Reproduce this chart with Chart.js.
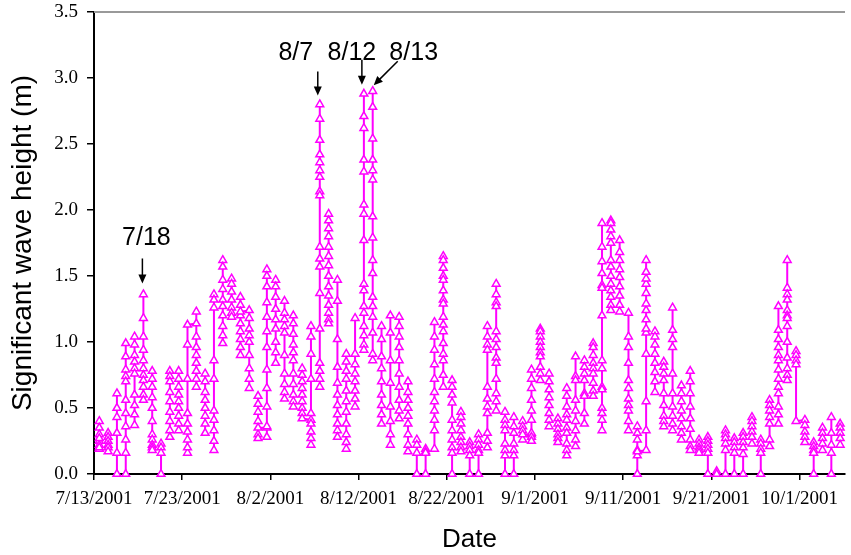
<!DOCTYPE html>
<html><head><meta charset="utf-8">
<script src="https://cdn.jsdelivr.net/npm/chart.js@4.4.1/dist/chart.umd.min.js"></script>
<style>html,body{margin:0;padding:0;background:#fff}canvas{display:block}</style>
</head><body>
<canvas id="c" width="851" height="555"></canvas>
<script>
// ---- data ----
const startDate = '7/13/2001';
const tickLabels = ['7/13/2001','7/23/2001','8/2/2001','8/12/2001','8/22/2001','9/1/2001','9/11/2001','9/21/2001','10/1/2001'];

// significant wave height (m) readings of each daily record burst
const julyHeights = [ // 7/13 - 7/31
  [0.4,0.35,0.3,0.25,0.22,0.19,0.2,0.27],
  [0.31,0.28,0.25,0.22,0.2,0.17],
  [0.61,0.5,0.43,0.31,0.16,0.0],
  [0.99,0.89,0.79,0.74,0.7,0.56,0.46,0.36,0.26,0.16,0.0],
  [1.04,0.98,0.9,0.85,0.8,0.76,0.6,0.52,0.45,0.37],
  [1.36,1.18,1.04,0.94,0.86,0.8,0.75,0.71,0.66,0.6,0.56],
  [0.78,0.72,0.66,0.58,0.5,0.4,0.3,0.26,0.22,0.2,0.18],
  [0.23,0.2,0.16,0.0],
  [0.78,0.74,0.7,0.62,0.55,0.47,0.4,0.33,0.28],
  [0.78,0.72,0.66,0.6,0.55,0.5,0.44,0.38,0.33],
  [0.16,0.2,0.26,0.32,0.38,0.46,0.72,0.98,1.13],
  [1.14,1.23,1.04,0.96,0.9,0.84,0.78,0.72,0.66],
  [0.76,0.7,0.62,0.56,0.5,0.44,0.38,0.31],
  [1.36,1.32,1.26,0.86,0.72,0.48,0.41,0.33,0.25,0.18],
  [1.62,1.57,1.47,1.4,1.32,1.27,1.2,1.12,1.05,0.99],
  [1.48,1.44,1.38,1.32,1.26,1.22,1.19],
  [1.34,1.28,1.2,1.14,1.08,1.02,0.96,0.9,1.23],
  [1.24,1.18,1.1,1.05,1.0,0.9,0.8,0.72,0.65],
  [0.59,0.53,0.47,0.4,0.3,0.27,0.35]
];
const augustHeights = [ // 8/1 - 8/31
  [0.35,1.55,1.5,1.42,1.3,1.19,1.08,0.96,0.79,0.65,0.51,0.36,0.28],
  [1.47,1.42,1.34,1.25,1.17,1.1,1.0,0.92,0.84],
  [1.31,1.22,1.17,1.12,1.07,0.9,0.76,0.68,0.62,0.57],
  [1.2,1.14,1.06,0.98,0.92,0.86,0.76,0.68,0.6,0.55,0.51],
  [0.8,0.75,0.7,0.65,0.6,0.55,0.5,0.46,0.42],
  [0.41,1.12,1.04,0.91,0.72,0.46,0.38,0.32,0.27,0.22],
  [2.8,2.69,2.53,2.42,2.36,2.3,2.25,2.14,2.11,1.72,1.63,1.57,1.37,1.1,0.84,0.78,0.72,0.66],
  [1.97,1.92,1.86,1.8,1.72,1.65,1.58,1.5,1.42,1.35,1.28,1.22,1.17,1.14],
  [1.47,1.31,1.02,0.81,0.69,0.6,0.52,0.45,0.38,0.33,0.28],
  [0.91,0.85,0.78,0.72,0.63,0.55,0.47,0.38,0.3,0.24,0.19],
  [1.18,0.91,0.83,0.76,0.7,0.63,0.57,0.51],
  [2.88,2.71,2.62,2.38,2.29,2.04,1.97,1.77,1.44,1.39,1.27,1.22,1.12,1.05,0.98,0.94],
  [2.9,2.78,2.54,2.38,2.3,2.23,1.95,1.79,1.62,1.52,1.34,1.27,1.19,1.07,0.91,0.86],
  [1.12,1.02,0.89,0.8,0.7,0.6,0.52,0.45,0.38],
  [1.2,1.07,0.86,0.69,0.51,0.4,0.3,0.22],
  [1.19,1.12,1.04,0.96,0.86,0.76,0.66,0.56,0.48,0.42],
  [0.7,0.62,0.56,0.5,0.44,0.38,0.3,0.22,0.17],
  [0.26,0.22,0.16,0.0],
  [0.19,0.17,0.16,0.0],
  [1.15,1.04,0.94,0.83,0.72,0.62,0.55,0.48,0.41,0.33,0.19],
  [1.65,1.62,1.56,1.5,1.47,1.39,1.32,1.29,1.19,1.13,1.08,0.99,0.91,0.86,0.75,0.66],
  [0.71,0.66,0.6,0.54,0.41,0.33,0.26,0.2,0.16,0.0],
  [0.47,0.43,0.38,0.33,0.28,0.24,0.2,0.17],
  [0.24,0.21,0.18,0.14,0.0],
  [0.3,0.26,0.22,0.18,0.16,0.0],
  [1.12,1.04,0.98,0.94,0.66,0.57,0.51,0.46,0.31,0.25,0.2],
  [1.44,1.36,1.3,1.27,1.08,1.02,0.96,0.88,0.84,0.72,0.61,0.55,0.48],
  [0.47,0.41,0.37,0.33,0.23,0.18,0.14,0.0],
  [0.43,0.36,0.31,0.23,0.18,0.14,0.0],
  [0.4,0.36,0.33,0.26,0.3],
  [0.3,0.79,0.72,0.65,0.56,0.48,0.41,0.31,0.28,0.25]
];
const septemberHeights = [ // 9/1 - 9/30
  [1.1,1.08,1.04,1.0,0.96,0.92,0.89,0.81,0.76,0.71],
  [0.76,0.7,0.64,0.58,0.52,0.46,0.41,0.36],
  [0.42,0.38,0.34,0.3,0.27,0.24],
  [0.65,0.59,0.51,0.45,0.41,0.35,0.31,0.23,0.18,0.14],
  [0.89,0.74,0.71,0.56,0.48,0.4,0.33,0.26,0.21],
  [0.86,0.81,0.76,0.71,0.61,0.59,0.46,0.38],
  [0.99,0.96,0.9,0.84,0.8,0.76,0.69,0.63,0.59],
  [1.9,1.72,1.61,1.52,1.43,1.41,1.2,0.86,0.8,0.66,0.64,0.5,0.46,0.41,0.33],
  [1.92,1.9,1.85,1.8,1.75,1.62,1.57,1.5,1.44,1.39,1.34,1.28,1.24],
  [1.77,1.68,1.62,1.55,1.49,1.42,1.35,1.28,1.23],
  [1.22,1.04,0.96,0.84,0.71,0.65,0.57,0.52,0.48,0.4,0.33],
  [0.36,0.31,0.26,0.18,0.14,0.0,0.17],
  [0.18,0.33,0.55,0.91,1.07,1.1,1.17,1.24,1.29,1.37,1.44,1.48,1.53,1.62],
  [1.08,1.04,0.98,0.91,0.84,0.77,0.7,0.62],
  [0.85,0.81,0.76,0.71,0.61,0.52,0.44,0.4,0.36],
  [1.26,1.09,1.02,0.96,0.76,0.61,0.51,0.44,0.38,0.33],
  [0.67,0.61,0.55,0.48,0.42,0.36,0.31,0.26],
  [0.78,0.7,0.61,0.51,0.42,0.34,0.26,0.21,0.18],
  [0.26,0.23,0.2,0.18,0.16],
  [0.28,0.25,0.22,0.19,0.16,0.0],
  [0.02,0.0],
  [0.33,0.3,0.27,0.23,0.18,0.0],
  [0.27,0.24,0.2,0.16,0.0],
  [0.31,0.28,0.24,0.2,0.15,0.0],
  [0.43,0.4,0.36,0.32,0.28,0.23],
  [0.26,0.23,0.19,0.16,0.0],
  [0.56,0.52,0.48,0.43,0.38,0.26,0.21],
  [1.27,1.09,1.02,0.96,0.9,0.86,0.79,0.72,0.66,0.61,0.51,0.45,0.38],
  [1.62,1.41,1.36,1.32,1.24,1.2,1.18,1.12,1.0,0.88,0.8,0.75,0.71],
  [0.93,0.9,0.86,0.83,0.4]
];
const octoberHeights = [ // 10/1 - 10/5
  [0.41,0.37,0.32,0.28,0.24],
  [0.24,0.21,0.18,0.16,0.0],
  [0.35,0.31,0.27,0.23,0.18],
  [0.43,0.31,0.22,0.16,0.0],
  [0.38,0.35,0.31,0.27,0.22]
];
// days (index from start) whose last record is joined to the next day's first record
const linkedDays = [10, 16, 18, 23, 48, 61, 79];
const calloutDates = ['7/18', '8/7', '8/12', '8/13'];

// ---- build ----
const dailyHeights = [...julyHeights, ...augustHeights, ...septemberHeights, ...octoberHeights];
const recordTime = 0.6; // fraction of the day at which each burst was recorded
const points = [];
dailyHeights.forEach((vals, d) => {
  vals.forEach(v => points.push({x: d + recordTime, y: v}));
  if (!linkedDays.includes(d)) points.push({x: d + recordTime, y: null});
});
function dayOf(md) {
  const [m, d] = md.split('/').map(Number);
  const [m0, d0, y0] = startDate.split('/').map(Number);
  return Math.round((Date.UTC(y0, m - 1, d) - Date.UTC(y0, m0 - 1, d0)) / 86400000);
}

function drawArrow(ctx, x1, y1, x2, y2) {
  const ang = Math.atan2(y2 - y1, x2 - x1);
  const L = 9, W = 4;
  ctx.beginPath();
  ctx.moveTo(x1, y1);
  ctx.lineTo(x2 - Math.cos(ang) * L * 0.8, y2 - Math.sin(ang) * L * 0.8);
  ctx.stroke();
  ctx.beginPath();
  ctx.moveTo(x2, y2);
  ctx.lineTo(x2 - Math.cos(ang) * L + Math.sin(ang) * W, y2 - Math.sin(ang) * L - Math.cos(ang) * W);
  ctx.lineTo(x2 - Math.cos(ang) * L - Math.sin(ang) * W, y2 - Math.sin(ang) * L + Math.cos(ang) * W);
  ctx.closePath();
  ctx.fill();
}

const calloutLayout = {
  '7/18': {tail: [-1, -36], tip: [-1, -11], text: [3, -56], row: false},
  '8/7':  {tail: [-2, -33], tip: [-2, -9], text: [-24, 0], row: true},
  '8/12': {tail: [-2, -34], tip: [-2, -9], text: [-12, 0], row: true},
  '8/13': {tail: [25, -30], tip: [1, -6], text: [41, 0], row: true}
};

const decor = {
  id: 'decor',
  beforeDatasetsDraw(chart) {
    const {ctx, chartArea: a} = chart;
    ctx.save();
    ctx.strokeStyle = '#999';
    ctx.lineWidth = 2;
    ctx.beginPath();
    ctx.moveTo(a.left, a.top);
    ctx.lineTo(a.right, a.top);
    ctx.stroke();
    ctx.restore();
  },
  afterDatasetsDraw(chart) {
    const {ctx} = chart;
    const xs = chart.scales.x, ys = chart.scales.y;
    ctx.save();
    ctx.strokeStyle = '#000';
    ctx.fillStyle = '#000';
    ctx.lineWidth = 1.5;
    ctx.font = '25px "Liberation Sans", Arial, sans-serif';
    ctx.textAlign = 'center';
    ctx.textBaseline = 'middle';
    const rowY = ys.getPixelForValue(3.19);
    calloutDates.forEach(md => {
      const d = dayOf(md);
      const col = xs.getPixelForValue(d + recordTime);
      const top = ys.getPixelForValue(Math.max(...dailyHeights[d]));
      const L = calloutLayout[md];
      drawArrow(ctx, col + L.tail[0], top + L.tail[1], col + L.tip[0], top + L.tip[1]);
      ctx.fillText(md, col + L.text[0], L.row ? rowY : top + L.text[1]);
    });
    ctx.restore();
  }
};

new Chart(document.getElementById('c'), {
  type: 'line',
  data: {
    datasets: [{
      data: points,
      borderColor: '#FF00FF',
      borderWidth: 2,
      pointStyle: 'triangle',
      pointRadius: 4.5,
      pointBorderWidth: 1.5,
      pointBorderColor: '#FF00FF',
      pointBackgroundColor: '#fff',
      spanGaps: false,
      tension: 0,
      clip: false
    }]
  },
  options: {
    responsive: false,
    animation: false,
    devicePixelRatio: 1,
    layout: {padding: {top: 12, left: 0, right: 0, bottom: 0}},
    plugins: {legend: {display: false}, tooltip: {enabled: false}},
    scales: {
      x: {
        type: 'linear', min: 0, max: 85.15,
        afterFit: s => { s.height = 81; },
        ticks: {
          stepSize: 10, includeBounds: false, autoSkip: false, maxRotation: 0, padding: 8,
          color: '#000', font: {family: '"Liberation Serif", "Times New Roman", serif', size: 19},
          callback: v => (v % 10 === 0 && tickLabels[v / 10]) ? tickLabels[v / 10] : ''
        },
        grid: {drawOnChartArea: false, drawTicks: true, tickLength: 6, color: '#000', lineWidth: 1.5},
        border: {display: true, color: '#000', width: 2},
        title: {display: true, text: 'Date', color: '#000',
          font: {family: '"Liberation Sans", Arial, sans-serif', size: 26}, padding: {top: 0, bottom: 0}}
      },
      y: {
        min: 0, max: 3.5,
        afterFit: s => { s.width = 94; s.paddingTop = 0; s.paddingBottom = 0; },
        ticks: {
          stepSize: 0.5, padding: 9, color: '#000',
          font: {family: '"Liberation Serif", "Times New Roman", serif', size: 19},
          callback: v => v.toFixed(1)
        },
        grid: {drawOnChartArea: false, drawTicks: true, tickLength: 7, color: '#000', lineWidth: 1.5},
        border: {display: true, color: '#000', width: 2},
        title: {display: true, text: 'Significant wave height (m)', color: '#000',
          font: {family: '"Liberation Sans", Arial, sans-serif', size: 28}, padding: {top: 6, bottom: 0}}
      }
    }
  },
  plugins: [decor]
});
</script>
</body></html>
